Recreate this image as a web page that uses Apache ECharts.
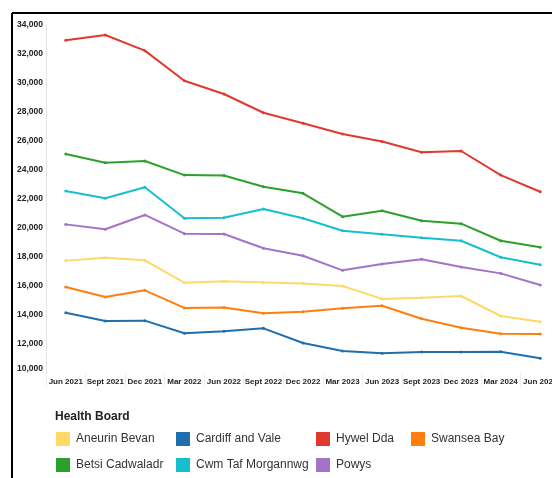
<!DOCTYPE html>
<html>
<head>
<meta charset="utf-8">
<script src="https://cdn.jsdelivr.net/npm/echarts@6/dist/echarts.min.js"></script>
<style>
  html, body { margin: 0; padding: 0; background: #fff; }
  #chart { width: 552px; height: 478px; }
</style>
</head>
<body>
<div id="chart"></div>
<script>
// quarters on the x axis
const quarters = ['Jun 2021', 'Sept 2021', 'Dec 2021', 'Mar 2022', 'Jun 2022', 'Sept 2022',
  'Dec 2022', 'Mar 2023', 'Jun 2023', 'Sept 2023', 'Dec 2023', 'Mar 2024', 'Jun 2024'];

// values per health board
const aneurinBevan = [17750, 17950, 17770, 16230, 16320, 16250, 16180, 16000, 15110, 15190, 15310, 13930, 13540];
const betsiCadwaladr = [25100, 24500, 24620, 23650, 23620, 22850, 22390, 20780, 21190, 20500, 20300, 19120, 18670];
const cardiffAndVale = [14160, 13590, 13610, 12740, 12880, 13080, 12070, 11520, 11360, 11450, 11450, 11470, 11010];
const cwmTaf = [22550, 22050, 22810, 20670, 20710, 21310, 20670, 19810, 19570, 19330, 19120, 17980, 17470];
const hywelDda = [32950, 33310, 32230, 30160, 29240, 27950, 27220, 26480, 25970, 25220, 25310, 23650, 22500];
const powys = [20250, 19910, 20900, 19610, 19590, 18600, 18090, 17080, 17510, 17840, 17310, 16870, 16070];
const swanseaBay = [15930, 15240, 15700, 14490, 14520, 14120, 14230, 14460, 14640, 13740, 13120, 12710, 12690];

const boards = [
  { name: 'Aneurin Bevan', data: aneurinBevan, color: '#FFD966' },
  { name: 'Betsi Cadwaladr', data: betsiCadwaladr, color: '#2CA02C' },
  { name: 'Cardiff and Vale', data: cardiffAndVale, color: '#1F6FAE' },
  { name: 'Cwm Taf Morgannwg', data: cwmTaf, color: '#17BECF' },
  { name: 'Hywel Dda', data: hywelDda, color: '#E0392E' },
  { name: 'Powys', data: powys, color: '#A373C8' },
  { name: 'Swansea Bay', data: swanseaBay, color: '#FF7F0E' }
];

const font = "'Liberation Sans', Arial, sans-serif";

let myChart = echarts.init(document.getElementById('chart'));

// legend laid out in 4 columns, 2 rows
const legendCols = [
  { left: 51, names: ['Aneurin Bevan', 'Betsi Cadwaladr'] },
  { left: 171, names: ['Cardiff and Vale', 'Cwm Taf Morgannwg'] },
  { left: 311, names: ['Hywel Dda', 'Powys'] },
  { left: 406, names: ['Swansea Bay'] }
];

var option = {
  animation: false,
  color: boards.map(b => b.color),
  title: {
    text: 'Health Board',
    left: 50,
    top: 406,
    textStyle: { fontFamily: font, fontSize: 12, fontWeight: 'bold', color: '#222' }
  },
  legend: legendCols.map(c => ({
    data: c.names,
    orient: 'vertical',
    left: c.left,
    top: 427,
    itemWidth: 14,
    itemHeight: 14,
    itemGap: 12,
    icon: 'rect',
    selectedMode: false,
    textStyle: { fontFamily: font, fontSize: 12, color: '#333', padding: [0, 0, 0, 1] }
  })),
  grid: { left: 46, width: 514, top: 25, bottom: 105, outerBoundsMode: 'none', containLabel: false },
  xAxis: {
    type: 'category',
    data: quarters,
    boundaryGap: true,
    axisLine: { show: false },
    axisTick: { show: true, length: 14, interval: 0, lineStyle: { color: '#ececec' } },
    axisLabel: {
      interval: 0,
      margin: 5,
      fontFamily: font,
      fontSize: 8,
      fontWeight: 'bold',
      color: '#222'
    }
  },
  yAxis: {
    type: 'value',
    min: 10000,
    max: 34000,
    interval: 2000,
    splitLine: { show: false },
    axisLine: { show: true, lineStyle: { color: '#e3e3e3' } },
    axisTick: { show: false },
    axisLabel: {
      margin: 3,
      fontFamily: font,
      fontSize: 8.5,
      fontWeight: 'bold',
      color: '#222',
      formatter: v => v === 10000 ? '{lo|10,000}' : v.toLocaleString('en-US'),
      rich: { lo: { fontFamily: font, fontSize: 8.5, fontWeight: 'bold', color: '#222', padding: [0, 0, 8, 0] } }
    }
  },
  series: boards.map(b => ({
    name: b.name,
    type: 'line',
    data: b.data,
    symbol: 'circle',
    symbolSize: 3,
    lineStyle: { width: 2, color: b.color },
    itemStyle: { color: b.color }
  })),
  graphic: [
    { type: 'line', shape: { x1: 12, y1: 13, x2: 552, y2: 13 }, style: { stroke: '#000', lineWidth: 2 } },
    { type: 'line', shape: { x1: 12, y1: 13, x2: 12, y2: 478 }, style: { stroke: '#000', lineWidth: 2 } }
  ]
};

myChart.setOption(option);
</script>
</body>
</html>
